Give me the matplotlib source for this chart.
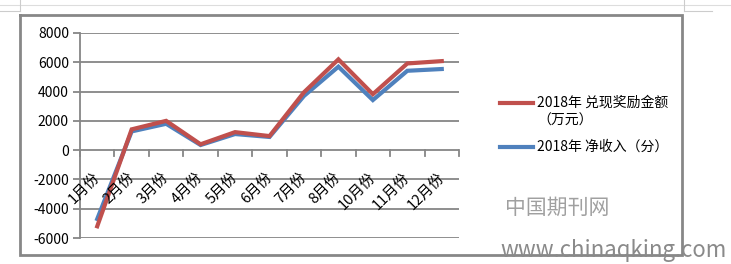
import matplotlib
matplotlib.use("Agg")
import matplotlib.pyplot as plt
from matplotlib.lines import Line2D
import numpy as np

plt.rcParams['font.family'] = ['Noto Sans CJK SC', 'DejaVu Sans']

months = ["1月份", "2月份", "3月份", "4月份", "5月份", "6月份", "7月份", "8月份", "10月份", "11月份", "12月份"]
reward = [-5200, 1420, 2000, 400, 1230, 960, 3950, 6200, 3820, 5920, 6080]
income = [-4700, 1280, 1800, 350, 1100, 900, 3700, 5700, 3420, 5420, 5540]
yticks = [-6000, -4000, -2000, 0, 2000, 4000, 6000, 8000]
label_reward = "2018年 兑现奖励金额\n（万元）"
label_income = "2018年 净收入（分）"

W, H = 731, 264
fig = plt.figure(figsize=(W / 100, H / 100), dpi=100)
fig.patch.set_facecolor("white")

def fx(px):
    return px / W

def fy(py):
    return 1 - py / H

# page decoration lines
fig.add_artist(Line2D([0, 1], [fy(5), fy(5)], color="#dddddd", lw=0.8))
fig.add_artist(Line2D([fx(20), fx(20)], [fy(0), fy(11)], color="#cccccc", lw=0.8))
fig.add_artist(Line2D([fx(0), fx(20)], [fy(11), fy(11)], color="#cccccc", lw=0.8))
fig.add_artist(Line2D([fx(684), fx(684)], [fy(0), fy(11)], color="#cccccc", lw=0.8))
fig.add_artist(Line2D([fx(684), fx(712)], [fy(11), fy(11)], color="#cccccc", lw=0.8))

# chart frame
frame_color = "#878787"
fig.add_artist(Line2D([fx(20), fx(682), fx(682), fx(20), fx(20)],
                      [fy(15), fy(15), fy(255), fy(255), fy(15)],
                      color=frame_color, lw=2.0, solid_joinstyle="miter"))

ax = fig.add_axes([fx(80), fy(238), fx(459) - fx(80), fy(33) - fy(238)])
ax.set_facecolor("none")
x = np.arange(len(months))
ax.set_xlim(-0.5, len(months) - 0.5)
ax.set_ylim(-6000, 8000)
ax.set_yticks(yticks)
ax.set_yticklabels([str(v) for v in yticks], fontsize=10)
grid_c = "#868686"
for v in yticks:
    ax.axhline(v, color=grid_c, lw=1.3, zorder=1)
for s in ["top", "right", "bottom"]:
    ax.spines[s].set_visible(False)
ax.spines["left"].set_color(grid_c)
ax.spines["left"].set_linewidth(1.3)
ax.tick_params(axis="y", length=5, width=1.3, color=grid_c, pad=3)
ax.set_xticks([])

# x axis ticks at category boundaries along y=0
for b in np.arange(-0.5, len(months), 1.0):
    ax.plot([b, b], [0, -400], color=grid_c, lw=1.3, zorder=1, clip_on=False)

# category labels
for i, m in enumerate(months):
    ax.text(i - 0.14, -1350, m, rotation=45, ha="right", va="top",
            rotation_mode="anchor", fontsize=10.5, zorder=4)

ax.plot(x, income, color="#4F81BD", lw=3.0, zorder=3, solid_joinstyle="miter")
ax.plot(x, reward, color="#C0504D", lw=3.0, zorder=3, solid_joinstyle="miter")

# legend (drawn manually to match the layout)
fig.add_artist(Line2D([fx(500), fx(533)], [fy(103), fy(103)], color="#C0504D", lw=3.0))
fig.add_artist(Line2D([fx(500), fx(533)], [fy(147), fy(147)], color="#4F81BD", lw=3.0))
fig.text(fx(537), fy(96), label_reward, fontsize=10, ha="left", va="top",
         linespacing=1.35, multialignment="left")
fig.text(fx(537), fy(147), label_income, fontsize=10, ha="left", va="center")

# watermark
fig.text(fx(505), fy(214), "中国期刊网", fontsize=15, color="#a0a0a0",
         ha="left", va="baseline", fontweight="light")
fig.text(fx(500), fy(257), "www.chinaqking.com", fontsize=16, color="#8a8a8a",
         ha="left", va="baseline")

fig.savefig("out.png", dpi=100)
